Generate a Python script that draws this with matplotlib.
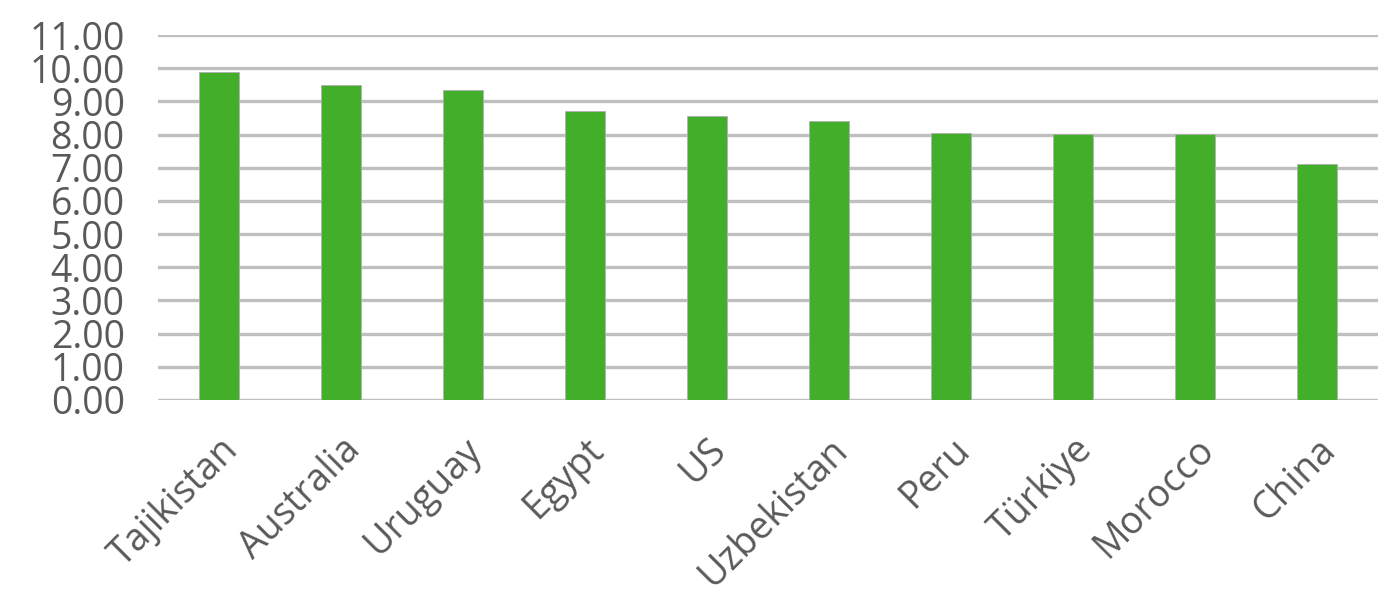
import numpy as np
import matplotlib.pyplot as plt

countries = ['Tajikistan', 'Australia', 'Uruguay', 'Egypt', 'US',
             'Uzbekistan', 'Peru', 'Türkiye', 'Morocco', 'China']
values = [9.87, 9.48, 9.33, 8.70, 8.55, 8.40, 8.05, 8.01, 8.01, 7.12]
y_ticks = np.arange(0, 12, 1)

BAR_COLOR = '#43ae2a'
TEXT_COLOR = '#595959'
GRID_COLOR = '#bfbfbf'

plt.rcParams['font.family'] = ['Open Sans', 'DejaVu Sans']

fig = plt.figure(figsize=(13.84, 6.16), dpi=100)
ax = fig.add_axes([158 / 1384, 1 - 400 / 616, 1220 / 1384, 365 / 616])

x = np.arange(len(countries))
ax.bar(x, values, width=0.32, color=BAR_COLOR, edgecolor='#b0b0b0',
       linewidth=0.6, zorder=3)

ax.set_xlim(-0.5, len(countries) - 0.5)
ax.set_ylim(0, 11)
ax.set_yticks(y_ticks)
ax.set_yticklabels([f'{v:.2f}' for v in y_ticks], fontsize=27, color=TEXT_COLOR)
ax.set_xticks(x)
ax.set_xticklabels(countries, rotation=45, ha='right', rotation_mode='anchor',
                   fontsize=27, color=TEXT_COLOR)
ax.tick_params(axis='both', length=0)
ax.tick_params(axis='y', pad=24)
ax.tick_params(axis='x', pad=22)

ax.grid(axis='y', color=GRID_COLOR, linewidth=2.4, zorder=0)
for s in ax.spines.values():
    s.set_visible(False)

fig.savefig('out.png', dpi=100)
